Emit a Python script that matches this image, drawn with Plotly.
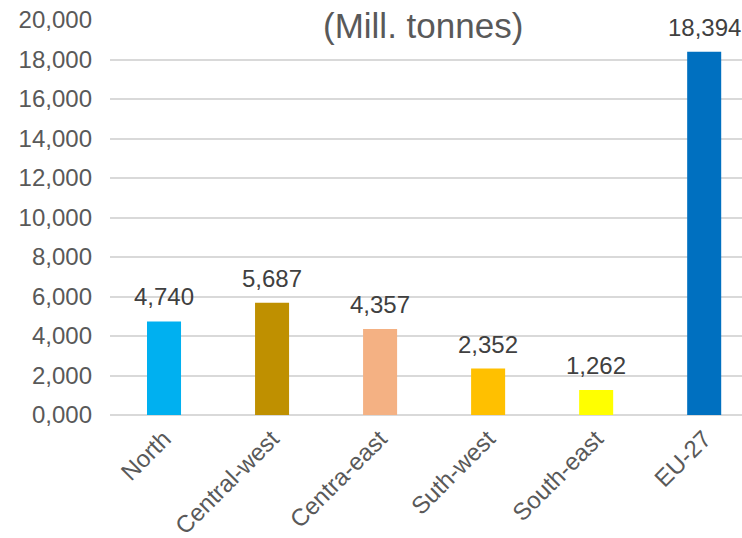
import plotly.graph_objects as go

categories = ["North", "Central-west", "Centra-east", "Suth-west", "South-east", "EU-27"]
values = [4.740, 5.687, 4.357, 2.352, 1.262, 18.394]
colors = ["#00B0F0", "#BF9000", "#F4B183", "#FFC000", "#FFFF00", "#0070C0"]
tick_vals = [0, 2, 4, 6, 8, 10, 12, 14, 16, 18, 20]

FONT = "Liberation Sans, Arial, sans-serif"

fig = go.Figure()
fig.add_trace(go.Bar(
    x=categories, y=values, marker=dict(color=colors, line=dict(width=0)),
    width=0.315, hoverinfo="skip",
))

for c, v in zip(categories, values):
    fig.add_annotation(
        x=c, y=v, xref="x", yref="y", text=f"{v:.3f}".replace(".", ","),
        showarrow=False, yanchor="bottom", yshift=9,
        font=dict(family=FONT, size=24, color="#404040"),
    )

fig.add_annotation(
    x=0.495, y=1.0, xref="paper", yref="paper", text="(Mill. tonnes)",
    showarrow=False, yanchor="middle", yshift=-5,
    font=dict(family=FONT, size=35, color="#595959"),
)

fig.update_layout(
    width=742, height=538,
    margin=dict(l=110, r=0, t=20, b=123),
    paper_bgcolor="white", plot_bgcolor="white",
    showlegend=False,
    separators=",.",
    font=dict(family=FONT, size=24, color="#595959"),
    xaxis=dict(
        range=[-0.5, 5.35], tickangle=-45, showgrid=False, showline=False,
        ticks="", tickfont=dict(family=FONT, size=24, color="#595959"),
        ticklabelstandoff=4, automargin=False,
        fixedrange=True,
    ),
    yaxis=dict(
        range=[0, 20], tickvals=tick_vals, tickformat=".3f",
        showgrid=True, gridcolor="#D9D9D9", gridwidth=1.5,
        zeroline=True, zerolinecolor="#D9D9D9", zerolinewidth=1.5,
        showline=False, ticks="", ticklen=0,
        tickfont=dict(family=FONT, size=24, color="#595959"),
        ticklabelstandoff=17, automargin=False,
        fixedrange=True,
    ),
)

fig.write_html("out.html")
